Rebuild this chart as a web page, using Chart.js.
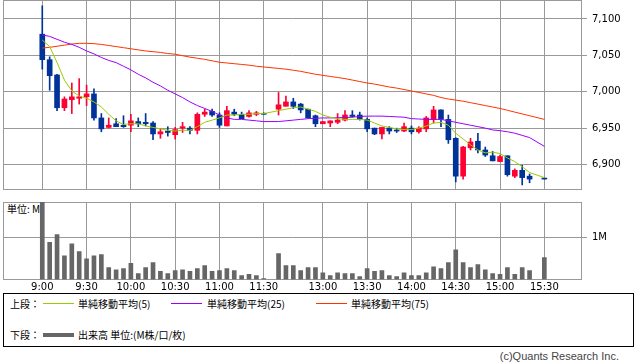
<!DOCTYPE html>
<html lang="ja">
<head>
  <meta charset="UTF-8" />
  <title>日中足チャート</title>
  <script src="https://cdn.jsdelivr.net/npm/chart.js"></script>
  <style>
    body {
      margin: 0;
      width: 638px;
      height: 362px;
      position: relative;
      overflow: hidden;
      background: #fff;
      font-family: "DejaVu Sans", sans-serif;
    }
    canvas { position: absolute; left: 0; }
    #priceChart { top: 0; z-index: 2; }
    #volChart { top: 196px; z-index: 2; }
    .unit {
      position: absolute; left: 7px; top: 201px; z-index: 1;
      font: 10px "Noto Sans CJK JP", sans-serif; color: #000;
    }
    .legend {
      position: absolute; left: 3px; top: 293px;
      width: 631px; height: 54px; box-sizing: border-box;
      border: 1px solid #000;
      font: 10px "Noto Sans CJK JP", sans-serif; color: #000;
    }
    .legend span { position: absolute; line-height: 12px; white-space: nowrap; }
    .legend i { position: absolute; display: block; width: 31px; }
    .copy {
      position: absolute; right: 19px; top: 350px;
      font: 11px "Liberation Sans", sans-serif; color: #444;
    }
  </style>
</head>
<body>

  <canvas id="priceChart" width="638" height="191"></canvas>
  <div class="unit">単位: M</div>
  <canvas id="volChart" width="638" height="100"></canvas>

  <div class="legend">
    <span style="left:6px;top:4px">上段：</span>
    <i style="left:39px;top:9px;border-top:1px solid #99cc00"></i>
    <span id="lg0" style="left:74px;top:4px"></span>
    <i style="left:167px;top:9px;border-top:1px solid #9900ff"></i>
    <span id="lg1" style="left:203px;top:4px"></span>
    <i style="left:312px;top:9px;border-top:1px solid #ff3300"></i>
    <span id="lg2" style="left:347px;top:4px"></span>

    <span style="left:6px;top:35px">下段：</span>
    <i style="left:39px;top:39px;border-top:4px solid #666"></i>
    <span id="lg3" style="left:74px;top:35px"></span>
  </div>
  <div class="copy">(c)Quants Research Inc.</div>

  <script>
    // ------------------ data ------------------
    const times = [
      '9:00','9:05','9:10','9:15','9:20','9:25','9:30','9:35','9:40','9:45','9:50','9:55',
      '10:00','10:05','10:10','10:15','10:20','10:25','10:30','10:35','10:40','10:45','10:50','10:55',
      '11:00','11:05','11:10','11:15','11:20','11:25','11:30',
      '12:30','12:35','12:40','12:45','12:50','12:55',
      '13:00','13:05','13:10','13:15','13:20','13:25','13:30','13:35','13:40','13:45','13:50','13:55',
      '14:00','14:05','14:10','14:15','14:20','14:25','14:30','14:35','14:40','14:45','14:50','14:55',
      '15:00','15:05','15:10','15:15','15:20','15:30'
    ];

    const opens = [
      7079, 7044, 7023, 6978, 6989, 6991, 6993, 6997, 6964, 6951, 6956, 6954,
      6954, 6959, 6958, 6957, 6942, 6946, 6941, 6950, 6950, 6947, 6969, 6973,
      6968, 6953, 6972, 6969, 6966, 6969, 6970,
      6976, 6980, 6986, 6983, 6976, 6967,
      6956, 6957, 6958, 6961, 6968, 6968, 6962, 6950, 6942, 6950, 6947, 6946,
      6950, 6945, 6949, 6962, 6975, 6962, 6936, 6884, 6923, 6932, 6920, 6912,
      6904, 6912, 6884, 6892, 6884, 6880
    ];
    const highs = [
      7118, 7048, 7024, 6993, 7012, 7018, 7009, 7004, 6970, 6964, 6963, 6967,
      6969, 6964, 6970, 6959, 6949, 6952, 6951, 6958, 6952, 6971, 6976, 6976,
      6971, 6980, 6976, 6972, 6974, 6973, 6971,
      6999, 6994, 6991, 6984, 6976, 6968,
      6959, 6960, 6970, 6974, 6974, 6972, 6964, 6950, 6951, 6952, 6950, 6957,
      6953, 6952, 6966, 6980, 6975, 6968, 6937, 6925, 6936, 6943, 6924, 6918,
      6913, 6912, 6894, 6899, 6887, 6880
    ];
    const lows = [
      7031, 7002, 6974, 6974, 6970, 6983, 6981, 6961, 6945, 6950, 6952, 6951,
      6945, 6952, 6953, 6934, 6936, 6939, 6935, 6944, 6942, 6942, 6966, 6966,
      6951, 6953, 6967, 6963, 6965, 6967, 6969,
      6968, 6980, 6977, 6971, 6964, 6952,
      6956, 6952, 6956, 6960, 6965, 6961, 6945, 6941, 6935, 6942, 6944, 6945,
      6942, 6943, 6945, 6957, 6952, 6929, 6876, 6880, 6920, 6916, 6911, 6905,
      6904, 6884, 6882, 6872, 6875, 6880
    ];
    const closes = [
      7044, 7022, 6978, 6990, 6993, 6993, 6997, 6964, 6949, 6954, 6952, 6952,
      6960, 6956, 6956, 6942, 6945, 6944, 6948, 6952, 6947, 6969, 6972, 6968,
      6954, 6974, 6969, 6963, 6971, 6971, 6969,
      6982, 6986, 6980, 6975, 6964, 6956,
      6959, 6960, 6961, 6968, 6966, 6962, 6949, 6942, 6951, 6946, 6946, 6952,
      6945, 6950, 6964, 6975, 6962, 6934, 6884, 6924, 6931, 6920, 6913, 6905,
      6911, 6886, 6892, 6882, 6880, 6880
    ];

    const ma5 = [
      7071, 7062, 7040, 7016, 7001, 6994, 6991, 6986, 6979, 6969, 6960, 6955,
      6956, 6956, 6953, 6951, 6949, 6947, 6946, 6947, 6947, 6952, 6958, 6961,
      6964, 6968, 6968, 6969, 6969, 6970, 6970,
      6974, 6976, 6978, 6979, 6976, 6973,
      6968, 6965, 6963, 6962, 6962, 6962, 6961, 6957, 6953, 6951, 6949, 6948,
      6948, 6950, 6953, 6957, 6958, 6954, 6943, 6935, 6927, 6920, 6916, 6917,
      6915, 6909, 6904, 6897, 6889, 6882
    ];
    const ma25 = [
      7078, 7076, 7072, 7068, 7065, 7061, 7056, 7052, 7047, 7043, 7040, 7035,
      7030, 7024, 7019, 7013, 7008, 7002, 6997, 6992, 6986, 6981, 6977, 6973,
      6968, 6964, 6962, 6962, 6961, 6960, 6959,
      6959, 6960, 6961, 6962, 6963, 6963.5,
      6964, 6964, 6964.3, 6964.5, 6965, 6966, 6966.5, 6966.5, 6966.5, 6966, 6965.5, 6965,
      6963, 6962.5, 6962, 6962, 6962, 6960, 6958, 6956, 6954, 6952, 6950, 6947.5,
      6946.5, 6945, 6943, 6940, 6937, 6925
    ];
    const ma75 = [
      7060, 7061, 7062.5, 7064, 7065.5, 7066.5, 7066.5, 7066, 7065, 7063.5, 7062, 7060.5,
      7059, 7057.5, 7056, 7055, 7054, 7052.5, 7051.5, 7049.5, 7047.5, 7046, 7044.5, 7042.5,
      7040.5, 7039.5, 7038.5, 7037.5, 7036.5, 7035, 7034,
      7032, 7031, 7029.5, 7028, 7026, 7024,
      7022.5, 7021, 7019.5, 7018, 7016, 7014, 7012, 7010.5, 7008.5, 7006.5, 7005, 7003,
      7001, 6999, 6997, 6995, 6992, 6990, 6988.5, 6987, 6985, 6983, 6981, 6979,
      6977, 6974.5, 6972, 6969.5, 6967, 6962
    ];

    // 出来高 (M)
    const volumes = [
      2.0, 0.88, 1.06, 0.56, 0.84, 0.66, 0.49, 0.56, 0.59, 0.28, 0.23, 0.26,
      0.38, 0.14, 0.28, 0.40, 0.19, 0.14, 0.21, 0.23, 0.19, 0.26, 0.33, 0.19,
      0.21, 0.26, 0.21, 0.09, 0.12, 0.09, 0.02,
      0.61, 0.33, 0.33, 0.21, 0.28, 0.28,
      0.16, 0.09, 0.16, 0.14, 0.14, 0.07, 0.26, 0.19, 0.21, 0.09, 0.07, 0.16,
      0.09, 0.09, 0.16, 0.30, 0.26, 0.40, 0.70, 0.40, 0.28, 0.35, 0.23, 0.14,
      0.12, 0.28, 0.12, 0.28, 0.21, 0.52
    ];

    const tickTimes = ['9:00','9:30','10:00','10:30','11:00','11:30','13:00','13:30','14:00','14:30','15:00','15:30'];
    const priceTicks = [6900, 6950, 7000, 7050, 7100];
    const volTicks = [1];
    const seriesNames = ['単純移動平均(5)', '単純移動平均(25)', '単純移動平均(75)', '出来高 単位:(M株/口/枚)'];

    // ------------------ helpers ------------------
    // time -> slot on the x axis (lunch break squeezed into one empty slot)
    function slotOf(t) {
      const [h, m] = t.split(':').map(Number);
      const min = h * 60 + m;
      return min <= 690 ? (min - 540) / 5 : 32 + (min - 750) / 5;
    }

    const gridColor = '#999';
    const UP = '#ff0033', DOWN = '#003399';
    const candleColors = opens.map((o, i) => closes[i] > o ? UP : DOWN);
    const X_MIN = -5.32, X_MAX = 73.1;
    const axisFont = { family: 'DejaVu Sans', size: 10 };

    seriesNames.forEach((n, i) => document.getElementById('lg' + i).textContent = n);

    const framePlugin = {
      id: 'frame',
      beforeDatasetsDraw(chart) {
        const a = chart.chartArea, ctx = chart.ctx;
        ctx.save();
        ctx.strokeStyle = gridColor;
        ctx.lineWidth = 1;
        ctx.strokeRect(Math.round(a.left) + 0.5, Math.round(a.top) + 0.5,
          Math.round(a.right - a.left) - 1, Math.round(a.bottom - a.top) - 1);
        ctx.restore();
      }
    };

    function xScale(showLabels, height) {
      return {
        type: 'linear', min: X_MIN, max: X_MAX, bounds: 'data', offset: false,
        afterBuildTicks: s => { s.ticks = tickTimes.map(t => ({ value: slotOf(t) })); },
        ticks: {
          display: showLabels, autoSkip: false, maxRotation: 0, padding: 2,
          font: axisFont, color: '#000',
          callback: (v, i) => tickTimes[i]
        },
        grid: { color: gridColor, drawTicks: false, offset: false },
        border: { display: false },
        afterFit: s => { s.height = height; s.paddingLeft = 0; s.paddingRight = 0; }
      };
    }

    function yScale(min, max, ticks, fmt) {
      return {
        position: 'right', min: min, max: max, bounds: 'data',
        afterBuildTicks: s => { s.ticks = ticks.map(v => ({ value: v })); },
        ticks: { font: axisFont, color: '#000', padding: 5, callback: fmt },
        grid: { color: gridColor, tickLength: 5 },
        border: { display: false },
        afterFit: s => { s.width = 56; s.paddingTop = 0; s.paddingBottom = 0; }
      };
    }

    // ------------------ price chart ------------------
    const pts = arr => arr.map((v, i) => ({ x: slotOf(times[i]), y: v }));
    const maLine = (data, color) => ({
      type: 'line', data: pts(data), borderColor: color, borderWidth: 1,
      pointRadius: 0, tension: 0, order: 0
    });

    new Chart(document.getElementById('priceChart'), {
      type: 'bar',
      data: {
        datasets: [
          maLine(ma5, '#99cc00'),
          maLine(ma25, '#9900ff'),
          maLine(ma75, '#ff3300'),
          {
            data: times.map((t, i) => ({ x: slotOf(t), y: [opens[i], closes[i]] })),
            backgroundColor: candleColors, barThickness: 5, minBarLength: 1,
            grouped: false, order: 1
          },
          {
            data: times.map((t, i) => ({ x: slotOf(t), y: [lows[i], highs[i]] })),
            backgroundColor: candleColors, barThickness: 1, minBarLength: 1,
            grouped: false, order: 2
          }
        ]
      },
      options: {
        responsive: false,
        animation: false,
        layout: { padding: { left: 3, top: 0, right: 0, bottom: 1 } },
        plugins: { legend: { display: false }, tooltip: { enabled: false } },
        scales: {
          x: xScale(false, 0),
          y: yScale(6865, 7126, priceTicks, v => v.toLocaleString('en-US'))
        }
      },
      plugins: [framePlugin]
    });

    // ------------------ volume chart ------------------
    new Chart(document.getElementById('volChart'), {
      type: 'bar',
      data: {
        datasets: [{
          data: pts(volumes),
          backgroundColor: '#666', barThickness: 4, grouped: false
        }]
      },
      options: {
        responsive: false,
        animation: false,
        layout: { padding: { left: 3, top: 6, right: 0, bottom: 0 } },
        plugins: { legend: { display: false }, tooltip: { enabled: false } },
        scales: {
          x: xScale(true, 16.5),
          y: yScale(0, 1.83, volTicks, v => v + 'M')
        }
      },
      plugins: [framePlugin]
    });
  </script>

</body>
</html>
